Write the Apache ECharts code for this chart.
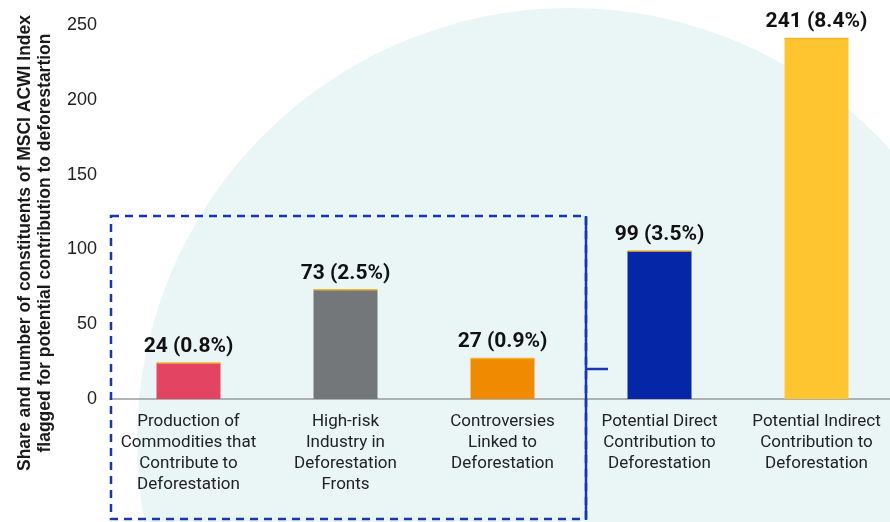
<!DOCTYPE html>
<html>
<head>
<meta charset="utf-8">
<script src="https://cdn.jsdelivr.net/npm/echarts@6/dist/echarts.min.js"></script>
<style>
html,body{margin:0;padding:0;background:#fff;overflow:hidden;}
#chart{width:900px;height:522px;}
</style>
</head>
<body>
<div id="chart"></div>
<script>
var categories = [
  'Production of\nCommodities that\nContribute to\nDeforestation',
  'High-risk\nIndustry in\nDeforestation\nFronts',
  'Controversies\nLinked to\nDeforestation',
  'Potential Direct\nContribution to\nDeforestation',
  'Potential Indirect\nContribution to\nDeforestation'
];
var counts = [24, 73, 27, 99, 241];
var shares = ['0.8%', '2.5%', '0.9%', '3.5%', '8.4%'];
var barColors = ['#e34462', '#737779', '#f08a00', '#0626a8', '#ffc530'];
var yTicks = [0, 50, 100, 150, 200, 250];
var yTitle = 'Share and number of constituents of MSCI ACWI Index\nflagged for potential contribution to deforestartion';

var chart = echarts.init(document.getElementById('chart'));
var boxColor = '#1736b4';
chart.setOption({
  animation: false,
  backgroundColor: '#ffffff',
  graphic: [
    { type: 'circle', z: -10, shape: { cx: 570, cy: 441, r: 433 }, style: { fill: '#eaf6f6' }, silent: true },
    { type: 'rect', z: 100, shape: { x: 111, y: 216, width: 475, height: 303 },
      style: { fill: 'none', stroke: boxColor, lineWidth: 2.5, lineDash: [8, 6] } },
    { type: 'line', z: 101, shape: { x1: 586, y1: 216, x2: 586, y2: 520 },
      style: { stroke: boxColor, lineWidth: 2.5 } },
    { type: 'line', z: 101, shape: { x1: 586, y1: 369, x2: 608, y2: 369 },
      style: { stroke: boxColor, lineWidth: 2.5 } },
    { type: 'text', z: 100, x: 35, y: 243, rotation: Math.PI / 2,
      style: { text: yTitle, fill: '#1a1a1a', font: 'bold 17.5px "Liberation Sans"', align: 'center', verticalAlign: 'middle', lineHeight: 20 } }
  ],
  grid: { left: 110, top: 25, width: 785, height: 374 },
  xAxis: {
    type: 'category',
    data: categories,
    axisLine: { show: true, lineStyle: { color: '#9a9a9a', width: 1.5 } },
    axisTick: { show: false },
    axisLabel: { color: '#222', fontFamily: 'Roboto', fontSize: 17, lineHeight: 21, margin: 12, interval: 0 }
  },
  yAxis: {
    type: 'value',
    min: yTicks[0],
    max: yTicks[yTicks.length - 1],
    interval: 50,
    axisLine: { show: false },
    axisTick: { show: false },
    splitLine: { show: false },
    axisLabel: { color: '#222', fontFamily: '"Liberation Sans"', fontSize: 18, margin: 13 }
  },
  series: [
    {
      type: 'bar',
      barWidth: 64,
      barGap: '-100%',
      data: counts.map(function (v, i) { return { value: v, itemStyle: { color: barColors[i] } }; }),
      label: {
        show: true,
        position: 'top',
        distance: 6,
        color: '#111',
        fontFamily: 'Roboto',
        fontWeight: 'bold',
        fontSize: 21,
        formatter: function (p) { return p.value + ' (' + shares[p.dataIndex] + ')'; }
      },
      z: 2
    },
    {
      type: 'pictorialBar',
      barWidth: 64,
      barGap: '-100%',
      symbol: 'rect',
      symbolPosition: 'end',
      symbolSize: ['100%', 1.5],
      symbolOffset: [0, '-50%'],
      itemStyle: { color: '#f3b52f' },
      data: counts,
      z: 3
    }
  ]
});
</script>
</body>
</html>
